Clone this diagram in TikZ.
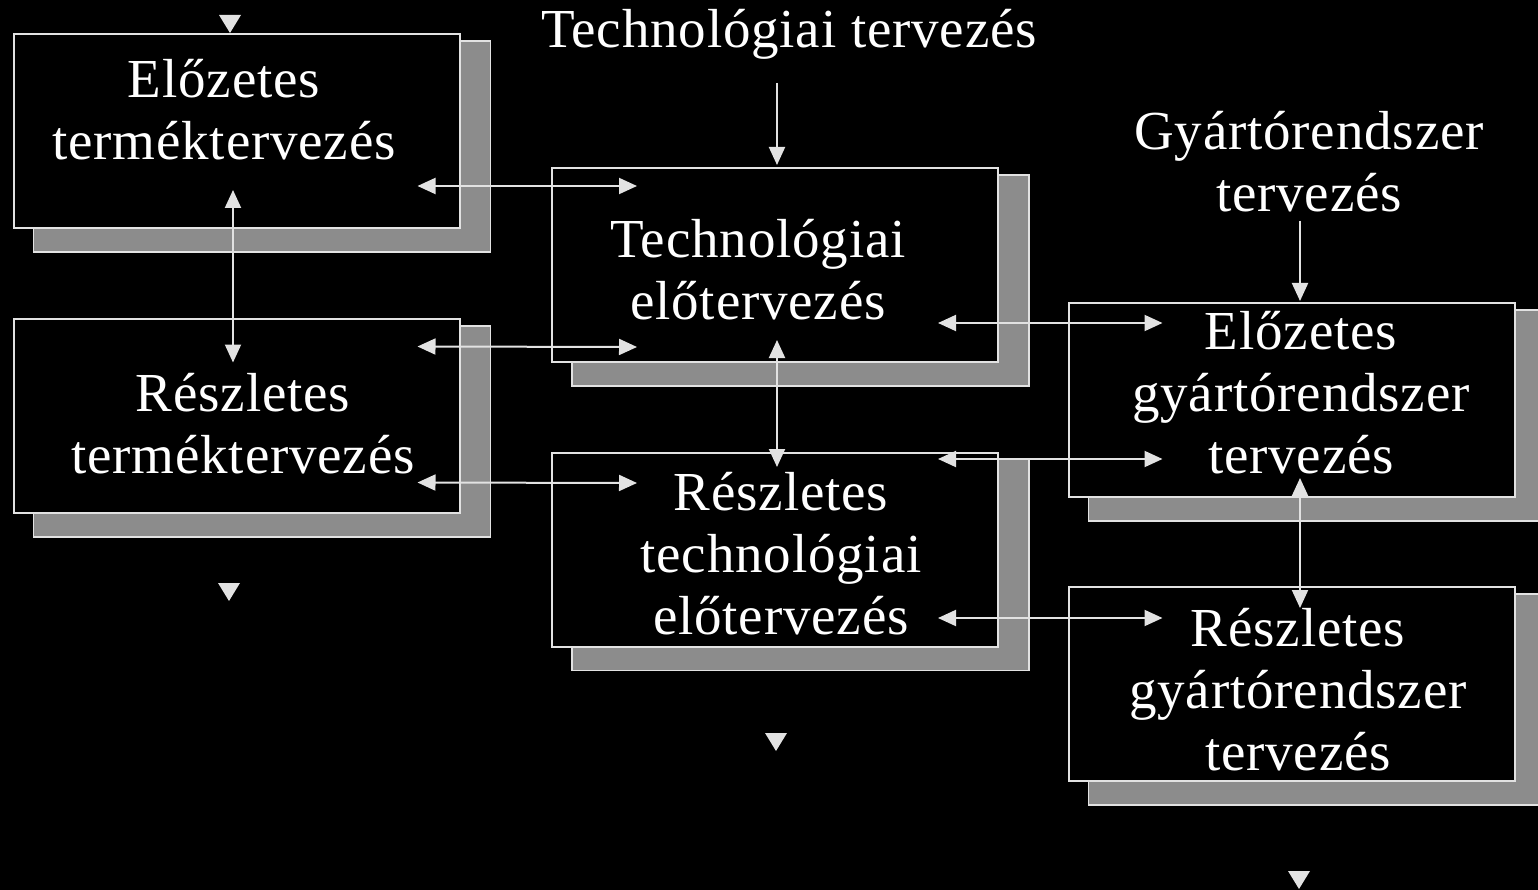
\documentclass[tikz,border=0pt]{standalone}
\usepackage{fontspec}
\setmainfont{Liberation Serif}[LetterSpace=1.5]
\usepackage{tikz}
\usetikzlibrary{calc}
\usetikzlibrary{positioning}
\usetikzlibrary{arrows.meta}
\usetikzlibrary{backgrounds}
\definecolor{lin}{HTML}{E2E2E2}
\definecolor{shad}{HTML}{8C8C8C}
\tikzset{>={Triangle[length=18pt,width=16pt]}}
\tikzset{box/.style={draw=lin,fill=black,line width=2pt,minimum width=446pt,minimum height=194pt,inner sep=0pt,outer sep=0pt}}
\tikzset{txt/.style={text=white,align=center,inner sep=0pt,font=\fontsize{55}{62}\selectfont}}
\tikzset{conn/.style={draw=lin,line width=2pt}}

\begin{document}
\begin{tikzpicture}[x=1pt,y=-1pt]
        \useasboundingbox (0,0) rectangle (1538,890);
        \node[box] (b1) at (236.5,131) {};
        \node[box] (b2) [below = 91pt of b1] {};
        \node[box] (b3) at (775,265) {};
        \node[box] (b4) [below = 90.5pt of b3] {};
        \node[box] (b5) at (1291.5,400) {};
        \node[box] (b6) [below = 90pt of b5] {};

        \begin{scope}[on background layer]
            \fill[black] (0,0) rectangle (1538,890);
            \foreach \i in {1,...,6}
                \filldraw[fill=shad,draw=lin,line width=1.5pt] ($(b\i.north west)+(20,7)$) rectangle ($(b\i.south east)+(31,24)$);
        \end{scope}

        \node[txt] (t1) at ($(b1)+(-12.5,-21)$) {Előzetes\\terméktervezés};
        \node[txt] (t2) at ($(b2)+(6.5,7.5)$) {Részletes\\terméktervezés};
        \node[txt] (t3) at ($(b3)+(-17,5)$) {Technológiai\\előtervezés};
        \node[txt] (t4) at ($(b4)+(6,4.5)$) {Részletes\\technológiai\\előtervezés};
        \node[txt] (t5) at ($(b5)+(9.5,-7)$) {Előzetes\\gyártórendszer\\tervezés};
        \node[txt] (t6) at ($(b6)+(6.5,6)$) {Részletes\\gyártórendszer\\tervezés};
        \node[txt,anchor=base] (tt) at (789,48) {Technológiai tervezés};
        \node[txt] (gy) at (1309,162) {Gyártórendszer\\tervezés};

        \draw [->,conn] ($(tt.base)+(-12,35)$) -- ($(b3.north)+(2,-3)$);
        \draw [->,conn] ($(gy.south)+(-9,8)$) -- ($(b5.north)+(8.5,-2)$);

        \draw [<->,conn] ($(b1.east)+(-42,55)$) -- ($(b3.west)+(85,-79)$);
        \draw [<->,conn] ($(b2.east)+(-42,-69.5)$) -- ($(b3.west)+(85,82)$);
        \draw [<->,conn] ($(b2.east)+(-42,66.5)$) -- ($(b4.west)+(85,-66.5)$);
        \draw [<->,conn] ($(b3.east)+(-60,58)$) -- ($(b5.west)+(94,-77)$);
        \draw [<->,conn] ($(b4.east)+(-60,-90.5)$) -- ($(b5.west)+(94,59)$);
        \draw [<->,conn] ($(b4.east)+(-60,68.5)$) -- ($(b6.west)+(94,-66)$);

        \draw [<->,conn] ($(b1.south)+(-3.5,-38)$) -- ($(b2.north)+(-3.5,43.5)$);
        \draw [<->,conn] ($(b3.south)+(2,-22)$) -- ($(b4.north)+(2,14.5)$);
        \draw [<->,conn] ($(b5.south)+(8.5,-19)$) -- ($(b6.north)+(8.5,21)$);

        \foreach \p in {(230,24),(229,592),(776,742),(1299,880)}
            \fill[lin] \p ++(-11,-9) -- ++(22,0) -- ++(-11,18) -- cycle;
    \end{tikzpicture}
\end{document}
